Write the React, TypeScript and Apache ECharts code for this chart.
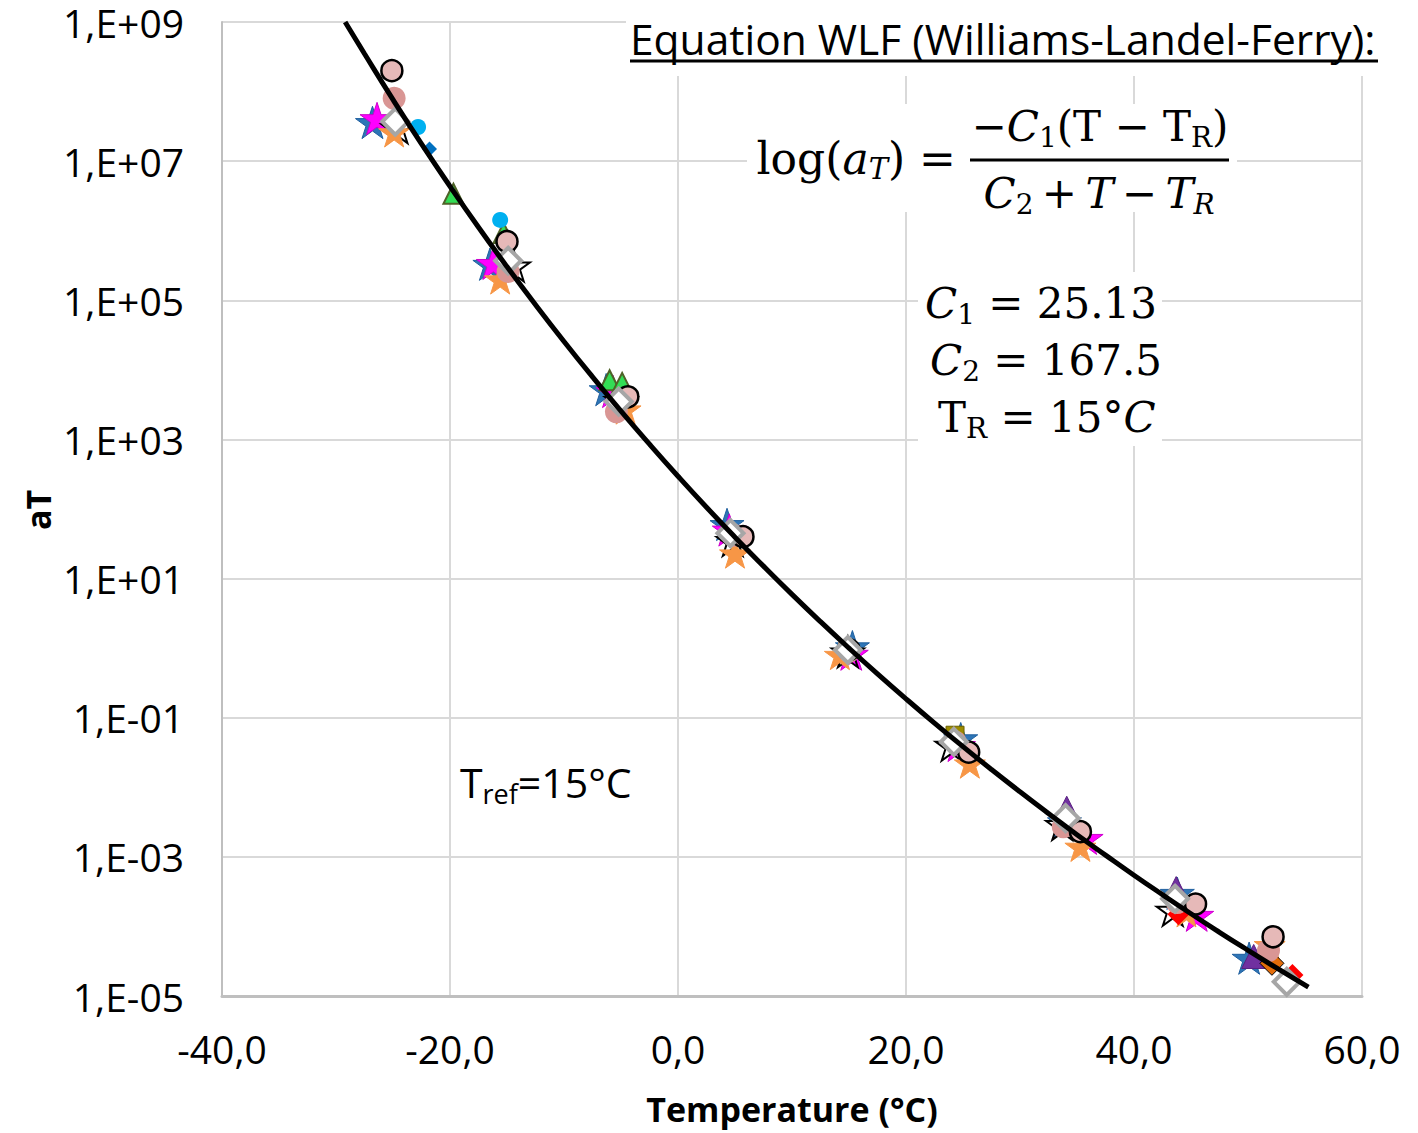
import React, { useEffect, useRef } from "react";
import * as echarts from "echarts";

// ---------- data ----------
const xTicks = [-40, -20, 0, 20, 40, 60];
const yTickExponents = [-5, -3, -1, 1, 3, 5, 7, 9];

// WLF fit curve (T in °C, aT)
const curveT = [-29.2, -27.5, -25, -22.5, -20, -17.5, -15, -12.5, -10, -7.5, -5, -2.5, 0, 2.5, 5, 7.5, 10, 12.5, 15, 17.5, 20, 22.5, 25, 27.5, 30, 32.5, 35, 37.5, 40, 42.5, 45, 47.5, 50, 52.5, 55.3];
const curveAT = [1.0e9, 3.5e8, 7.66e7, 1.77e7, 4.35e6, 1.12e6, 3.04e5, 8.63e4, 2.56e4, 7.93e3, 2.55e3, 855, 296, 106, 39.4, 15.1, 5.93, 2.4, 1.0, 0.427, 0.187, 0.0837, 0.0384, 0.018, 8.61e-3, 4.2e-3, 2.08e-3, 1.06e-3, 5.45e-4, 2.86e-4, 1.52e-4, 8.24e-5, 4.54e-5, 2.53e-5, 1.34e-5];

const blueStarT = [-26.8, -16.5, -6.3, 4.3, 15.3, 24.8, 33.9, 43.8, 50.1];
const blueStarAT = [3.6e7, 3.3e5, 5.2e3, 60, 1.05, 0.05, 3.2e-3, 3.0e-4, 3.5e-5];

const magentaStarT = [-26.4, -16.2, -5.7, 4.5, 15.2, 24.6, 35.8, 45.5];
const magentaStarAT = [4.1e7, 3.4e5, 4.9e3, 50, 0.82, 0.04, 1.85e-3, 1.45e-4];

const blackStarT = [-24.6, -14.4, -5.0, 4.8, 14.9, 24.0, 33.7, 43.4];
const blackStarAT = [3.0e7, 3.1e5, 3.6e3, 35, 0.88, 0.04, 2.9e-3, 1.7e-4];

const orangeStarT = [-24.9, -15.6, -4.6, 5.0, 14.2, 25.6, 35.3, 44.6, 51.9];
const orangeStarAT = [2.6e7, 2.0e5, 2.7e3, 23, 0.8, 0.022, 1.4e-3, 1.6e-4, 5.4e-5];

const greenTriT = [-19.7, -15.3, -6.0, -4.9];
const greenTriAT = [3.4e6, 9.3e5, 7.1e3, 6.5e3];

const purpleTriT = [34.1, 43.7, 50.5];
const purpleTriAT = [5.0e-3, 3.5e-4, 3.7e-5];

const oliveSqT = [24.3];
const oliveSqAT = [0.056];

const cyanT = [-22.8, -15.6];
const cyanAT = [3.1e7, 1.43e6];

const blueDiaT = [-21.8];
const blueDiaAT = [1.5e7];

const redDiaT = [43.9, 53.9];
const redDiaAT = [1.5e-4, 2.0e-5];

const orangeDiaT = [52.1];
const orangeDiaAT = [2.95e-5];

const pinkFillT = [-24.9, -14.9, -5.4, 4.9, 15.0, 24.3, 33.8, 43.8, 51.8];
const pinkFillAT = [8.0e7, 2.6e5, 2.5e3, 42, 0.9, 0.045, 2.7e-3, 2.2e-4, 4.5e-5];

const pinkRingT = [-25.1, -15.0, -4.4, 5.7, 15.0, 25.5, 35.3, 45.4, 52.2];
const pinkRingAT = [2.0e8, 7.0e5, 4.1e3, 40, 0.95, 0.032, 2.3e-3, 2.1e-4, 7.1e-5];

const whiteDiaT = [-24.8, -14.9, -5.2, 4.6, 14.9, 24.2, 34.0, 43.6, 53.4];
const whiteDiaAT = [3.7e7, 3.7e5, 3.5e3, 45, 0.94, 0.045, 3.6e-3, 2.5e-4, 1.6e-5];

// ---------- helpers ----------
const STAR = "path://M50 0 L61.2 34.5 L97.6 34.5 L68.2 55.9 L79.4 90.5 L50 69.1 L20.6 90.5 L31.8 55.9 L2.4 34.5 L38.8 34.5 Z";
const pts = (t: number[], a: number[]) => t.map((x, i) => [x, Math.log10(a[i])]);

const SANS = "Open Sans";
const SERIF = "DejaVu Serif";

function scatter(name: string, t: number[], a: number[], symbol: string, size: number, itemStyle: any) {
  return {
    name,
    type: "scatter",
    data: pts(t, a),
    symbol,
    symbolSize: size,
    symbolKeepAspect: true,
    itemStyle: { opacity: 1, ...itemStyle },
    silent: true,
  };
}

export default function App() {
  const ref = useRef<HTMLDivElement>(null);
  useEffect(() => {
    if (!ref.current) return;
    const chart = echarts.init(ref.current, null, { renderer: "svg" });
    const FS = 42;
    const SUB = 28;
    const serifRich = {
      n: { fontFamily: SERIF, fontSize: FS, fill: "#000" },
      i: { fontFamily: SERIF, fontSize: FS, fontStyle: "italic", fill: "#000" },
      s: { fontFamily: SERIF, fontSize: SUB, fontStyle: "italic", fill: "#000", padding: [22, 0, 0, 0] },
      sn: { fontFamily: SERIF, fontSize: SUB, fill: "#000", padding: [22, 0, 0, 0] },
    };
    const bigRich = {
      n: { fontFamily: SERIF, fontSize: 44, fill: "#000" },
      i: { fontFamily: SERIF, fontSize: 44, fontStyle: "italic", fill: "#000" },
      s: { fontFamily: SERIF, fontSize: 29, fontStyle: "italic", fill: "#000", padding: [22, 0, 0, 0] },
    };
    const Z = 50;
    const option: any = {
      animation: false,
      backgroundColor: "#fff",
      grid: { left: 222, right: 56, top: 22, bottom: 137, containLabel: false },
      xAxis: {
        type: "value",
        min: -40,
        max: 60,
        interval: 20,
        axisLine: { show: true, onZero: false, lineStyle: { color: "#bfbfbf", width: 3 } },
        axisTick: { show: false },
        splitLine: { show: true, lineStyle: { color: "#d9d9d9", width: 2 } },
        axisLabel: {
          margin: 33,
          fontFamily: SANS,
          fontSize: 39,
          color: "#000",
          formatter: (v: number) => (xTicks.includes(v) ? v.toFixed(1).replace(".", ",") : ""),
        },
      },
      yAxis: {
        type: "value",
        min: -5,
        max: 9,
        interval: 2,
        axisLine: { show: true, onZero: false, lineStyle: { color: "#bfbfbf", width: 2 } },
        axisTick: { show: false },
        splitLine: { show: true, lineStyle: { color: "#d9d9d9", width: 2 } },
        axisLabel: {
          margin: 38,
          fontFamily: SANS,
          fontSize: 39,
          lineHeight: 40,
          color: "#000",
          formatter: (v: number) =>
            yTickExponents.includes(v)
              ? "1,E" + (v >= 0 ? "+" : "-") + String(Math.abs(v)).padStart(2, "0")
              : "",
        },
      },
      series: [
        {
          name: "WLF",
          type: "line",
          data: pts(curveT, curveAT),
          smooth: true,
          showSymbol: false,
          symbol: "none",
          lineStyle: { color: "#000", width: 5 },
          silent: true,
          clip: true,
        },
        scatter("blueStar", blueStarT, blueStarAT, STAR, 34, { color: "#2e75b6", borderColor: "#1f5f9f", borderWidth: 1 }),
        scatter("magentaStar", magentaStarT, magentaStarAT, STAR, 34, { color: "#ff00ff", borderColor: "#cc00cc", borderWidth: 1 }),
        scatter("blackStar", blackStarT, blackStarAT, STAR, 32, { color: "rgba(0,0,0,0)", borderColor: "#000", borderWidth: 2 }),
        scatter("orangeStar", orangeStarT, orangeStarAT, STAR, 31, { color: "#f79646", borderColor: "#f79646", borderWidth: 1 }),
        scatter("greenTri", greenTriT, greenTriAT, "triangle", 20, { color: "#33dd55", borderColor: "#4f6228", borderWidth: 2 }),
        scatter("purpleTri", purpleTriT, purpleTriAT, "triangle", 24, { color: "#7030a0", borderColor: "#5a2080", borderWidth: 1 }),
        scatter("oliveSq", oliveSqT, oliveSqAT, "rect", 18, { color: "#9c8b00", borderColor: "#6b6000", borderWidth: 1 }),
        scatter("cyan", cyanT, cyanAT, "circle", 16, { color: "#00b0f0" }),
        scatter("blueDia", blueDiaT, blueDiaAT, "diamond", 15, { color: "#0070c0" }),
        scatter("redDia", redDiaT, redDiaAT, "diamond", 22, { color: "#ff0000" }),
        scatter("orangeDia", orangeDiaT, orangeDiaAT, "diamond", 24, { color: "#e36c09", borderColor: "#000", borderWidth: 1 }),
        scatter("pinkFill", pinkFillT, pinkFillAT, "circle", 23, { color: "#d99694" }),
        scatter("pinkRing", pinkRingT, pinkRingAT, "circle", 21, { color: "#e6b9b8", borderColor: "#000", borderWidth: 2.5 }),
        scatter("whiteDia", whiteDiaT, whiteDiaAT, "diamond", 26, { color: "#fff", borderColor: "#a6a6a6", borderWidth: 4 }),
      ],
      graphic: [
        // white text boxes hiding the gridlines
        { type: "rect", z: Z, shape: { x: 626, y: 14, width: 756, height: 62 }, style: { fill: "#fff" } },
        { type: "rect", z: Z, shape: { x: 747, y: 104, width: 490, height: 108 }, style: { fill: "#fff" } },
        { type: "rect", z: Z, shape: { x: 918, y: 272, width: 244, height: 174 }, style: { fill: "#fff" } },
        {
          type: "text",
          z: Z + 1,
          x: 630,
          y: 38,
          style: { text: "Equation WLF (Williams-Landel-Ferry):", fontFamily: SANS, fontSize: 42.5, fill: "#000", align: "left", verticalAlign: "middle" },
        },
        { type: "line", z: Z + 1, shape: { x1: 630, y1: 61, x2: 1378, y2: 61 }, style: { stroke: "#000", lineWidth: 3 } },
        {
          type: "text",
          z: Z + 1,
          x: 956,
          y: 158,
          style: { text: "{n|log(}{i|a}{s|T}{n|) =}", rich: bigRich, align: "right", verticalAlign: "middle", fill: "#000" },
        },
        {
          type: "text",
          z: Z + 1,
          x: 1100,
          y: 126,
          style: { text: "{n|−}{i|C}{sn|1}{n|(T − T}{sn|R}{n|)}", rich: serifRich, align: "center", verticalAlign: "middle", fill: "#000" },
        },
        { type: "line", z: Z + 1, shape: { x1: 970, y1: 160, x2: 1229, y2: 160 }, style: { stroke: "#000", lineWidth: 3 } },
        {
          type: "text",
          z: Z + 1,
          x: 1099,
          y: 193,
          style: { text: "{i|C}{sn|2}{n|\u2009+\u2009}{i|T}{n|\u2009−\u2009}{i|T}{s|R}", rich: serifRich, align: "center", verticalAlign: "middle", fill: "#000" },
        },
        {
          type: "text",
          z: Z + 1,
          x: 925,
          y: 303,
          style: { text: "{i|C}{sn|1}{n| = 25.13}", rich: serifRich, align: "left", verticalAlign: "middle", fill: "#000" },
        },
        {
          type: "text",
          z: Z + 1,
          x: 930,
          y: 360,
          style: { text: "{i|C}{sn|2}{n| = 167.5}", rich: serifRich, align: "left", verticalAlign: "middle", fill: "#000" },
        },
        {
          type: "text",
          z: Z + 1,
          x: 938,
          y: 417,
          style: { text: "{n|T}{sn|R}{n| = 15°}{i|C}", rich: serifRich, align: "left", verticalAlign: "middle", fill: "#000" },
        },
        {
          type: "text",
          z: Z + 1,
          x: 460,
          y: 782,
          style: {
            text: "{a|T}{b|ref}{a|=15°C}",
            rich: {
              a: { fontFamily: SANS, fontSize: 41, fill: "#000" },
              b: { fontFamily: SANS, fontSize: 27, fill: "#000", padding: [22, 0, 0, 0] },
            },
            align: "left",
            verticalAlign: "middle",
            fill: "#000",
          },
        },
        {
          type: "text",
          z: Z + 1,
          x: 38,
          y: 510,
          rotation: Math.PI / 2,
          style: { text: "aT", fontFamily: SANS, fontSize: 34, fontWeight: "bold", fill: "#000", align: "center", verticalAlign: "middle" },
        },
        {
          type: "text",
          z: Z + 1,
          x: 792,
          y: 1109,
          style: { text: "Temperature (°C)", fontFamily: SANS, fontSize: 34, fontWeight: "bold", fill: "#000", align: "center", verticalAlign: "middle" },
        },
      ],
    };
    chart.setOption(option);
    return () => chart.dispose();
  }, []);
  return <div ref={ref} style={{ position: "fixed", left: 0, top: 0, width: 1418, height: 1133, background: "#fff" }} />;
}
